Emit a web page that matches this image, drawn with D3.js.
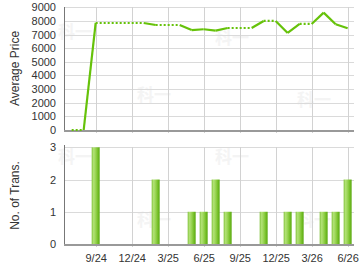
<!doctype html>
<html lang="en">
<head>
	<meta charset="UTF-8">
	<title>Average Price / No. of Trans.</title>
	<style type="text/css">
	body{ margin:0; background:#fff; }
	svg text{ font-family: "Liberation Sans", Arial, sans-serif; }
	.tick text{ font-size:11px; fill:#333; }
	.domain{ display:none; }
	</style>
	<script type="text/javascript" src="https://cdnjs.cloudflare.com/ajax/libs/d3/7.8.5/d3.min.js"></script>
</head>
<body>
	<script type="text/javascript">
		// monthly data, Jul 2024 .. Jun 2026
		var months = ["7/24","8/24","9/24","10/24","11/24","12/24","1/25","2/25","3/25","4/25","5/25","6/25",
		              "7/25","8/25","9/25","10/25","11/25","12/25","1/26","2/26","3/26","4/26","5/26","6/26"];
		var avgPrice = [0,0,7850,7850,7850,7850,7850,7700,7700,7700,7330,7390,
		                7290,7480,7480,7480,8000,8000,7120,7780,7780,8610,7760,7460];
		var trans = [0,0,3,0,0,0,0,2,0,0,1,1,
		             2,1,0,0,1,0,1,1,0,1,1,2];
		var priceTicks = [0,1000,2000,3000,4000,5000,6000,7000,8000,9000];
		var transTicks = [0,1,2,3];

		var w = 360, h = 270;
		var svg = d3.select('body').append('svg').attr('width', w).attr('height', h);

		var idx = months.map(function(d, i){ return i; });
		var tickIdx = idx.filter(function(i){ return +months[i].split('/')[0] % 3 === 0; });

		var x = d3.scaleLinear().domain([-0.64, 23.53]).range([64, 354]);
		var yP = d3.scaleLinear().domain([0, 9000]).range([130, 7.3]);
		var yT = d3.scaleLinear().domain([0, 3]).range([244, 147.3]);

		// watermark
		var marks = [[58,38],[137,101],[215,44],[297,106],[58,163],[137,226],[215,163],[297,226]];
		svg.selectAll('text.wm').data(marks).enter().append('text')
			.attr('class', 'wm')
			.attr('x', function(d){ return d[0]; })
			.attr('y', function(d){ return d[1]; })
			.attr('font-size', '17px')
			.attr('font-weight', 'bold')
			.attr('fill', '#f4f4f4')
			.style('font-family', '"Noto Sans CJK SC", sans-serif')
			.text('科一');

		function grid(g, y, yTicks, y0, y1){
			g.selectAll('line.h').data(yTicks.slice(1)).enter().append('line')
				.attr('class', 'h')
				.attr('x1', 64).attr('x2', 354)
				.attr('y1', function(d){ return Math.round(y(d)) + 0.5; })
				.attr('y2', function(d){ return Math.round(y(d)) + 0.5; })
				.attr('stroke', '#dadada');
			g.selectAll('line.v').data(tickIdx).enter().append('line')
				.attr('class', 'v')
				.attr('x1', function(d){ return Math.round(x(d)) + 0.5; })
				.attr('x2', function(d){ return Math.round(x(d)) + 0.5; })
				.attr('y1', y0).attr('y2', y1)
				.attr('stroke', '#d2d2d2');
		}
		function frame(g, y0, y1){
			g.append('line').attr('x1', 64.5).attr('x2', 64.5).attr('y1', y0).attr('y2', y1)
				.attr('stroke', '#777');
			g.append('line').attr('x1', 64).attr('x2', 354).attr('y1', y1 + 1).attr('y2', y1 + 1)
				.attr('stroke', '#999').attr('stroke-width', 2);
		}

		// ---- top: average price ----
		var gTop = svg.append('g');
		grid(gTop, yP, priceTicks, 7, 133);
		frame(gTop, 7, 130);
		gTop.append('g').attr('transform', 'translate(64,0)')
			.call(d3.axisLeft(yP).tickValues(priceTicks).tickFormat(d3.format('d')).tickSize(0).tickPadding(8));

		var line = d3.line().x(function(d){ return x(d); }).y(function(d){ return yP(avgPrice[d]); });
		var segs = idx.slice(0, -1).map(function(i){ return [i, i + 1]; });
		gTop.selectAll('path.seg').data(segs).enter().append('path')
			.attr('class', 'seg')
			.attr('d', line)
			.attr('fill', 'none')
			.attr('stroke', '#66c20a')
			.attr('stroke-width', 2.2)
			.attr('stroke-dasharray', function(d){ return trans[d[1]] > 0 ? null : '2,2'; });

		gTop.append('text').attr('transform', 'translate(19,68.5) rotate(-90)')
			.attr('text-anchor', 'middle').attr('font-size', '12px').attr('fill', '#333')
			.text('Average Price');

		// ---- bottom: no. of transactions ----
		var gBot = svg.append('g');
		grid(gBot, yT, transTicks, 147, 247);

		var grad = svg.append('defs').append('linearGradient').attr('id', 'bar');
		[[0,'#84c43e'],[0.25,'#b2e276'],[0.55,'#92d04a'],[0.8,'#70bc22'],[1,'#5aa812']].forEach(function(s){
			grad.append('stop').attr('offset', s[0]).attr('stop-color', s[1]);
		});
		gBot.selectAll('rect').data(idx.filter(function(i){ return trans[i] > 0; })).enter().append('rect')
			.attr('x', function(d){ return x(d) - 4; })
			.attr('y', function(d){ return yT(trans[d]); })
			.attr('width', 8)
			.attr('height', function(d){ return yT(0) - yT(trans[d]); })
			.attr('fill', 'url(#bar)');

		frame(gBot, 145, 244);
		gBot.append('g').attr('transform', 'translate(64,0)')
			.call(d3.axisLeft(yT).tickValues(transTicks).tickFormat(d3.format('d')).tickSize(0).tickPadding(8));
		gBot.append('g').attr('transform', 'translate(0,244)')
			.call(d3.axisBottom(x).tickValues(tickIdx).tickSize(0).tickPadding(10)
				.tickFormat(function(d){ return months[d]; }));

		gBot.append('text').attr('transform', 'translate(19,195.5) rotate(-90)')
			.attr('text-anchor', 'middle').attr('font-size', '12px').attr('fill', '#333')
			.text('No. of Trans.');
	</script>
</body>
</html>
